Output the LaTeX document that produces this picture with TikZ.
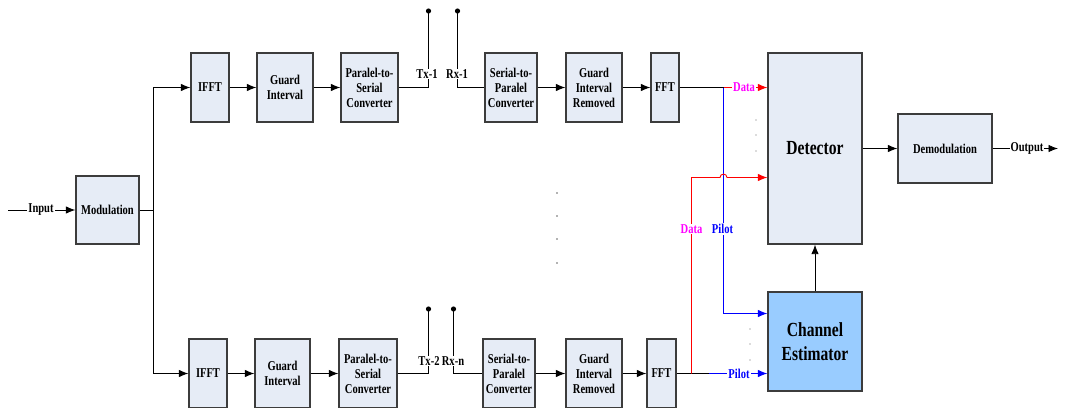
\documentclass[tikz,border=0pt]{standalone}
\usepackage{fontspec}
\setmainfont{Liberation Serif}[FakeStretch=0.78]
\usetikzlibrary{arrows.meta}
\definecolor{boxfill}{RGB}{230,236,246}
\definecolor{cefill}{RGB}{153,204,255}
\definecolor{boxline}{RGB}{60,60,60}
\definecolor{mag}{RGB}{255,0,255}
\begin{document}
\begin{tikzpicture}[x=1pt,y=-1pt,
  box/.style={draw=boxline, line width=1.3pt, fill=boxfill, inner sep=0pt, align=center,
    font=\bfseries\fontsize{13.5}{15}\selectfont},
  bigbox/.style={box, font=\bfseries\fontsize{20}{24}\selectfont},
  arr/.style={-{Latex[length=9.5pt,width=7.5pt]}},
  wire/.style={line width=0.9pt},
  lbl/.style={fill=white, inner sep=1pt, font=\bfseries\fontsize{13.5}{15}\selectfont},
  ddot/.style={fill=black!60},
]
\useasboundingbox (0,0) rectangle (1065,407);
% boxes
\node[box, minimum width=63pt, minimum height=68pt] (mod) at (107.5,210) {Modulation};
\node[box, minimum width=38pt, minimum height=69pt] (ifft1) at (210,87.5) {IFFT};
\node[box, minimum width=56pt, minimum height=69pt] (gi1) at (285,87.5) {Guard\\Interval};
\node[box, minimum width=57pt, minimum height=69pt] (ps1) at (369.5,87.5) {Paralel-to-\\Serial\\Converter};
\node[box, minimum width=52pt, minimum height=69pt] (sp1) at (511,87.5) {Serial-to-\\Paralel\\Converter};
\node[box, minimum width=56pt, minimum height=69pt] (gir1) at (594,87.5) {Guard\\Interval\\Removed};
\node[box, minimum width=28pt, minimum height=69pt] (fft1) at (665,87.5) {FFT};
\node[box, minimum width=38pt, minimum height=69pt] (ifft2) at (208,373.5) {IFFT};
\node[box, minimum width=55pt, minimum height=69pt] (gi2) at (282.5,373.5) {Guard\\Interval};
\node[box, minimum width=58pt, minimum height=69pt] (ps2) at (368,373.5) {Paralel-to-\\Serial\\Converter};
\node[box, minimum width=52pt, minimum height=69pt] (sp2) at (509,373.5) {Serial-to-\\Paralel\\Converter};
\node[box, minimum width=56pt, minimum height=69pt] (gir2) at (594,373.5) {Guard\\Interval\\Removed};
\node[box, minimum width=29pt, minimum height=69pt] (fft2) at (661.5,373.5) {FFT};
\node[bigbox, minimum width=94pt, minimum height=191pt] (det) at (815,148.5) {Detector};
\node[bigbox, fill=cefill, minimum width=94pt, minimum height=99pt] (ce) at (815,341.5) {Channel\\Estimator};
\node[box, minimum width=94pt, minimum height=69pt] (demod) at (945,148.5) {Demodulation};
% coordinates
\coordinate (in) at (8,210);
\coordinate (split) at (153.5,210);
\coordinate (tx1) at (428.5,11);
\coordinate (rx1) at (457.5,11);
\coordinate (tx2) at (428.5,309);
\coordinate (rxn) at (453.5,309);
\coordinate (j1) at (723.5,87.5);
\coordinate (b2) at (723.5,313.5);
\coordinate (r1) at (691.5,373.5);
\coordinate (r2) at (691.5,177.5);
\coordinate (k) at (709,373.5);
\coordinate (out) at (1058,148.5);
% connectors
\draw[wire,arr] (in) -- (mod.west);
\draw[wire] (mod.east) -- (split);
\draw[wire,arr] (split) |- (ifft1.west);
\draw[wire,arr] (split) |- (ifft2.west);
\draw[wire,arr] (ifft1) -- (gi1);
\draw[wire,arr] (gi1) -- (ps1);
\draw[wire] (ps1.east) -| (tx1);
\draw[wire] (rx1) |- (sp1.west);
\draw[wire,arr] (sp1) -- (gir1);
\draw[wire,arr] (gir1) -- (fft1);
\draw[wire,arr] (ifft2) -- (gi2);
\draw[wire,arr] (gi2) -- (ps2);
\draw[wire] (ps2.east) -| (tx2);
\draw[wire] (rxn) |- (sp2.west);
\draw[wire,arr] (sp2) -- (gir2);
\draw[wire,arr] (gir2) -- (fft2);
\fill (tx1) circle (2.6pt);
\fill (rx1) circle (2.6pt);
\fill (tx2) circle (2.6pt);
\fill (rxn) circle (2.6pt);
\draw[wire] (fft1.east) -- (j1);
\draw[wire,blue,arr] (j1) -- (b2) -- (ce.west |- b2);
\draw[wire,red,arr] (j1) -- (det.west |- j1);
\draw[wire] (fft2.east) -- (k);
\draw[wire,blue,arr] (k) -- (ce.west |- k);
\draw[wire,red,arr] (r1) -- (r2) -- (720,177.5) .. controls (720,173) and (727,173) .. (727,177.5) -- (det.west |- r2);
\draw[wire,arr] (ce.north) -- (det.south);
\draw[wire,arr] (det.east |- demod.west) -- (demod.west);
\draw[wire,arr] (demod.east) -- (out);
% labels
\node[lbl] (linput) at (41,210) {Input};
\node[lbl] (loutput) at (1027,148.5) {Output};
\node[lbl] (ltx1) at (427,74) {Tx-1};
\node[lbl] (lrx1) at (457,74) {Rx-1};
\node[lbl] (ltx2) at (429,361) {Tx-2};
\node[lbl] (lrxn) at (453,361) {Rx-n};
\node[lbl, text=mag] (ldata1) at (744,87.5) {Data};
\node[lbl, text=mag] (ldata2) at (691.5,229) {Data};
\node[lbl, text=blue] (lpilot1) at (722.5,229) {Pilot};
\node[lbl, text=blue] (lpilot2) at (739,373.5) {Pilot};
% dots
\foreach \y in {120,135,151} \fill[ddot] (756,\y) circle (0.7pt);
\foreach \y in {329,344,360} \fill[ddot] (750,\y) circle (0.7pt);
\foreach \y in {193,216,239,263} \fill[ddot] (557,\y) circle (0.8pt);
\end{tikzpicture}
\end{document}
